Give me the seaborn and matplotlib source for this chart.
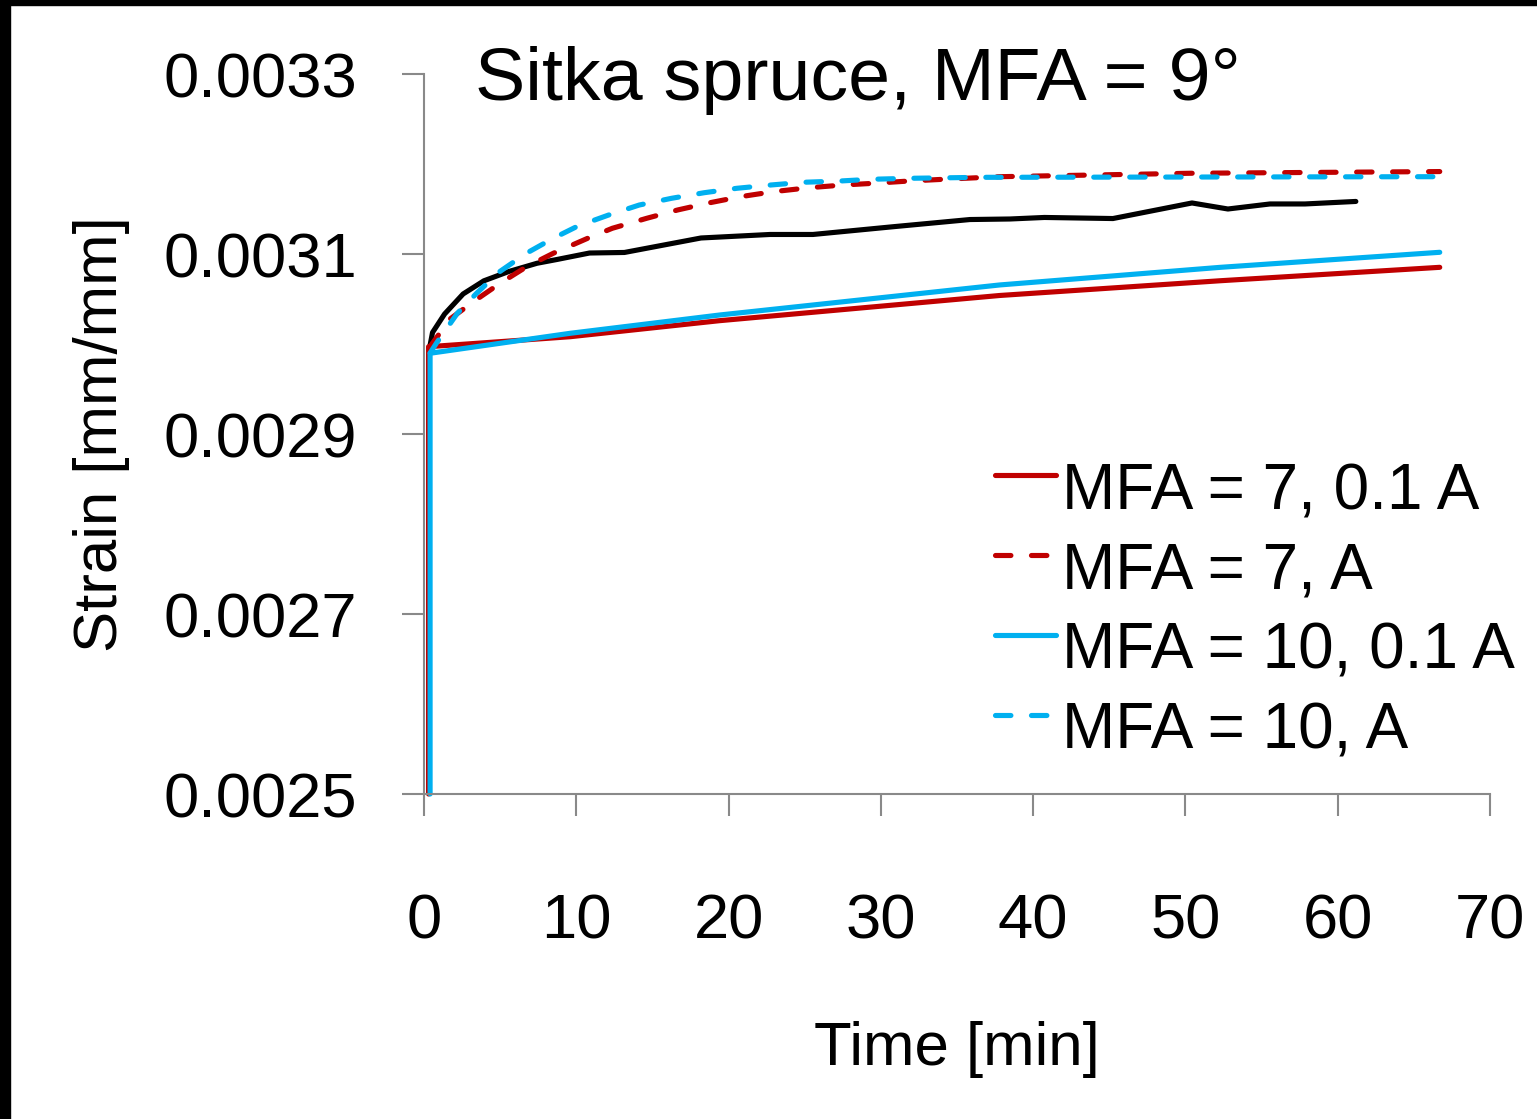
import numpy as np
import pandas as pd
import matplotlib
matplotlib.use("Agg")
import matplotlib.pyplot as plt
import seaborn as sns
from matplotlib.legend_handler import HandlerLine2D
from matplotlib.lines import Line2D
from matplotlib.patches import Rectangle

# ---------------- data ----------------
title_text = "Sitka spruce, MFA = 9°"
series_names = ["Sitka spruce, MFA = 9°", "MFA = 7, 0.1 A", "MFA = 7, A",
                "MFA = 10, 0.1 A", "MFA = 10, A"]

t_black = [0.39, 0.56, 1.35, 2.57, 3.93, 5.58, 7.42, 8.73, 10.87, 13.16, 18.19,
           22.72, 25.54, 30.80, 35.85, 38.48, 40.74, 45.24, 50.43, 52.79, 55.55,
           57.85, 61.19]
s_black = [0.0029978, 0.0030128, 0.0030333, 0.0030556, 0.0030702, 0.0030806,
           0.0030897, 0.0030939, 0.0031011, 0.0031017, 0.0031178, 0.0031217,
           0.0031217, 0.0031303, 0.0031383, 0.0031389, 0.0031406, 0.0031394,
           0.0031567, 0.0031500, 0.0031556, 0.0031556, 0.0031584]

t_red_solid = [0.3, 0.3, 9.6, 19.4, 37.8, 52.3, 66.7]
s_red_solid = [0.00250, 0.0029970, 0.0030081, 0.0030259, 0.0030539, 0.0030703,
               0.0030852]

t_red_dash = [0.35, 1.71, 3.24, 4.99, 6.74, 8.49, 10.74, 12.37, 14.63, 16.65,
              18.78, 20.79, 22.92, 25.31, 27.57, 29.58, 31.85, 34.10, 37.8,
              50.3, 66.7]
s_red_dash = [0.0029960, 0.0030278, 0.0030470, 0.0030674, 0.0030859, 0.0031008,
              0.0031174, 0.0031286, 0.0031397, 0.0031489, 0.0031570, 0.0031637,
              0.0031692, 0.0031737, 0.0031767, 0.0031786, 0.0031811, 0.0031830,
              0.0031859, 0.0031897, 0.0031916]

t_cyan_solid = [0.4, 0.4, 9.6, 19.4, 37.8, 52.3, 66.7]
s_cyan_solid = [0.00250, 0.0029897, 0.0030119, 0.0030322, 0.0030656, 0.0030852,
                0.0031019]

t_cyan_dash = [0.4, 0.81, 2.19, 3.45, 4.96, 6.72, 8.48, 10.11, 12.12, 14.13,
               16.26, 18.40, 20.54, 22.80, 24.93, 27.32, 29.33, 31.85, 36.62,
               66.7]
s_cyan_dash = [0.0029900, 0.0030008, 0.0030341, 0.0030563, 0.0030803, 0.0031008,
               0.0031174, 0.0031311, 0.0031433, 0.0031544, 0.0031619, 0.0031681,
               0.0031730, 0.0031767, 0.0031797, 0.0031811, 0.0031830, 0.0031841,
               0.0031852, 0.0031859]

x_ticks = [0, 10, 20, 30, 40, 50, 60, 70]
y_ticks = [0.0025, 0.0027, 0.0029, 0.0031, 0.0033]
y_tick_labels = ["0.0025", "0.0027", "0.0029", "0.0031", "0.0033"]
x_label = "Time [min]"
y_label = "Strain [mm/mm]"

# ---------------- build table ----------------
frames = []
for name, t, s in zip(series_names,
                      [t_black, t_red_solid, t_red_dash, t_cyan_solid, t_cyan_dash],
                      [s_black, s_red_solid, s_red_dash, s_cyan_solid, s_cyan_dash]):
    frames.append(pd.DataFrame({"time": t, "strain": s, "series": name}))
df = pd.concat(frames, ignore_index=True)

palette = {series_names[0]: "#000000", series_names[1]: "#C00000",
           series_names[2]: "#C00000", series_names[3]: "#00B0F0",
           series_names[4]: "#00B0F0"}
dash_map = {series_names[0]: "", series_names[1]: "", series_names[2]: (3.0, 4.0),
            series_names[3]: "", series_names[4]: (3.0, 4.0)}

# ---------------- style ----------------
sns.set_theme(style="ticks")
plt.rcParams["font.family"] = ["Liberation Sans", "DejaVu Sans"]
plt.rcParams["text.color"] = "black"
GRAY = "#898989"
FS_TICK = 45.5
FS_LEG = 46
FS_LAB = 44.5
FS_TITLE = 54.3
LW = 3.7

W_PX, H_PX = 1537, 1119
fig = plt.figure(figsize=(W_PX / 100, H_PX / 100), dpi=100)
fig.patch.set_facecolor("white")
ax_l, ax_r, ax_t, ax_b = 424, 1490, 74, 794
ax = fig.add_axes([ax_l / W_PX, 1 - ax_b / H_PX, (ax_r - ax_l) / W_PX,
                   (ax_b - ax_t) / H_PX])
ax.set_facecolor("white")

sns.lineplot(data=df, x="time", y="strain", hue="series", style="series",
             hue_order=series_names, style_order=series_names,
             palette=palette, dashes=dash_map, estimator=None, sort=False,
             linewidth=LW, ax=ax)
if ax.get_legend() is not None:
    ax.get_legend().remove()

for ln in ax.lines:
    ln.set_linewidth(LW)
    ln.set_dash_capstyle("round")
    ln.set_solid_capstyle("round")
    ln.set_solid_joinstyle("round")
    ln.set_dash_joinstyle("round")
    ln.set_clip_on(False)

ax.set_xlim(0, 70)
ax.set_ylim(0.0025, 0.0033)
ax.set_xticks(x_ticks)
ax.set_xticklabels([str(v) for v in x_ticks])
ax.set_yticks(y_ticks)
ax.set_yticklabels(y_tick_labels)

for side in ["top", "right"]:
    ax.spines[side].set_visible(False)
for side in ["left", "bottom"]:
    ax.spines[side].set_color(GRAY)
    ax.spines[side].set_linewidth(1.5)
ax.tick_params(axis="both", direction="out", length=16, width=1.5, color=GRAY,
               labelsize=FS_TICK, labelcolor="black")
ax.tick_params(axis="y", pad=32)
ax.tick_params(axis="x", pad=55)
ax.grid(False)

ax.set_xlabel(x_label, fontsize=FS_LAB, color="black", va="center")
ax.set_ylabel(y_label, fontsize=FS_LAB, color="black", va="center")
ax.xaxis.set_label_coords(0.5, (ax_b - 1050) / (ax_b - ax_t))
ax.yaxis.set_label_coords((102 - ax_l) / (ax_r - ax_l), 0.5)

ax.text((474.6 - ax_l) / (ax_r - ax_l), (ax_b - 100) / (ax_b - ax_t), title_text,
        transform=ax.transAxes, fontsize=FS_TITLE, color="black", ha="left",
        va="baseline")


class RaisedLine(HandlerLine2D):
    def create_artists(self, legend, orig_handle, xdescent, ydescent, width,
                       height, fontsize, trans):
        arts = super().create_artists(legend, orig_handle, xdescent, ydescent,
                                      width, height, fontsize, trans)
        for a in arts:
            a.set_ydata(np.asarray(a.get_ydata()) + 0.18 * fontsize)
        return arts


handles = ax.lines[1:5]
labels = series_names[1:5]
leg = ax.legend(handles, labels, loc="upper left",
                bbox_to_anchor=((995 - ax_l) / (ax_r - ax_l), (ax_b - 462) / (ax_b - ax_t)),
                frameon=False, fontsize=FS_LEG, handlelength=0.95, handletextpad=0.1,
                labelspacing=0.31, borderpad=0, borderaxespad=0, labelcolor="black",
                handler_map={Line2D: RaisedLine()})

# black frame on left and top of the original screenshot
fig.add_artist(Rectangle((0, 0), 10 / W_PX, 1, transform=fig.transFigure,
                         color="black", zorder=10))
fig.add_artist(Rectangle((0, 1 - 5 / H_PX), 1, 5 / H_PX, transform=fig.transFigure,
                         color="black", zorder=10))

fig.savefig("out.png", dpi=100, facecolor="white")
